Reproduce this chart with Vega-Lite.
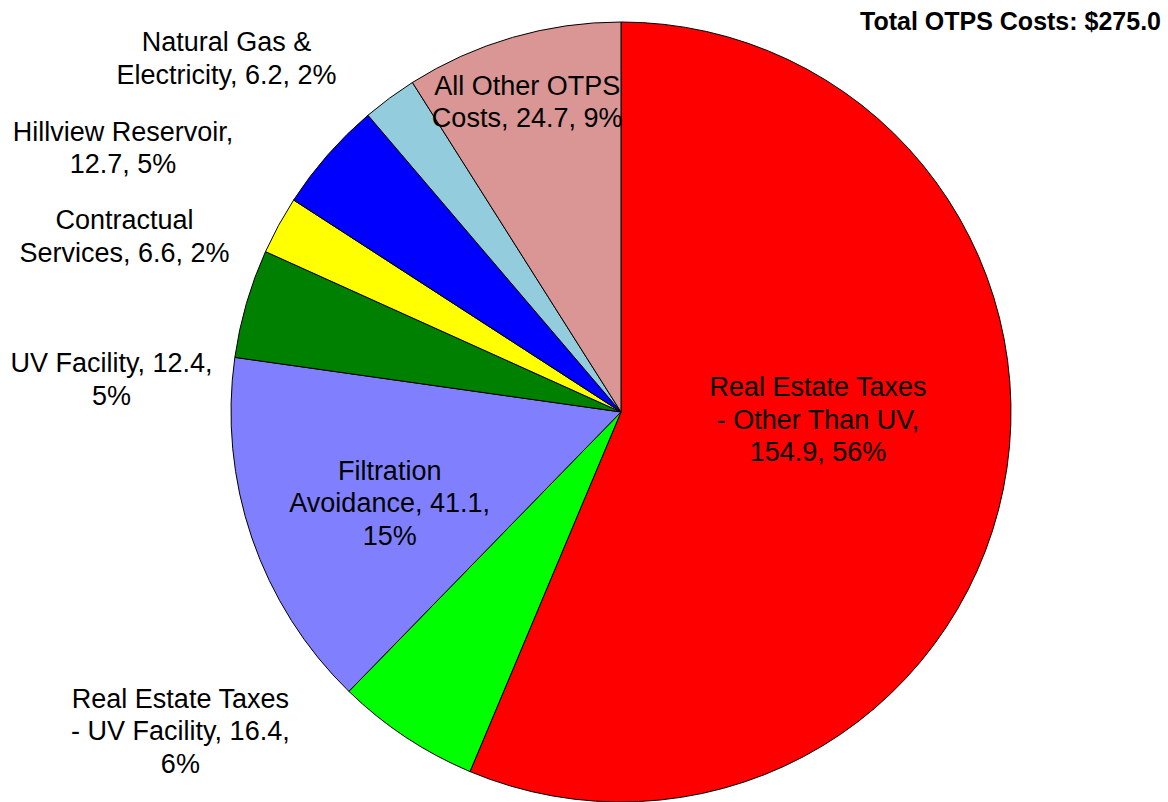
{
  "$schema": "https://vega.github.io/schema/vega-lite/v6.json",
  "width": 1094,
  "height": 780,
  "autosize": {"type": "none"},
  "padding": {"left": 74, "top": 22, "right": 0, "bottom": 0},
  "background": "white",
  "title": {"text": "Total OTPS Costs: $275.0", "anchor": "end", "frame": "group", "font": "Liberation Sans", "fontSize": 25, "fontWeight": "bold", "color": "black", "baseline": "alphabetic", "offset": -35, "dx": -7},
  "data": {"values": [
    {"order": 1, "category": "Real Estate Taxes - Other Than UV", "value": 154.9, "label": "Real Estate Taxes\n- Other Than UV,\n154.9, 56%"},
    {"order": 2, "category": "Real Estate Taxes - UV Facility", "value": 16.4, "label": "Real Estate Taxes\n- UV Facility, 16.4,\n6%"},
    {"order": 3, "category": "Filtration Avoidance", "value": 41.1, "label": "Filtration\nAvoidance, 41.1,\n15%"},
    {"order": 4, "category": "UV Facility", "value": 12.4, "label": "UV Facility, 12.4,\n5%"},
    {"order": 5, "category": "Contractual Services", "value": 6.6, "label": "Contractual\nServices, 6.6, 2%"},
    {"order": 6, "category": "Hillview Reservoir", "value": 12.7, "label": "Hillview Reservoir,\n12.7, 5%"},
    {"order": 7, "category": "Natural Gas & Electricity", "value": 6.2, "label": "Natural Gas &\nElectricity, 6.2, 2%"},
    {"order": 8, "category": "All Other OTPS Costs", "value": 24.7, "label": "All Other OTPS\nCosts, 24.7, 9%"}
  ]},
  "transform": [
    {"stack": "value", "groupby": [], "sort": [{"field": "order", "order": "ascending"}], "as": ["v0", "v1"]}
  ],
  "encoding": {
    "theta": {"field": "v0", "type": "quantitative", "scale": {"domain": [0, 275]}},
    "theta2": {"field": "v1"}
  },
  "layer": [
    {
      "mark": {"type": "arc", "stroke": "black", "strokeWidth": 1, "outerRadius": 390},
      "encoding": {
        "color": {"field": "category", "type": "nominal", "legend": null,
          "scale": {
            "domain": ["Real Estate Taxes - Other Than UV", "Real Estate Taxes - UV Facility", "Filtration Avoidance", "UV Facility", "Contractual Services", "Hillview Reservoir", "Natural Gas & Electricity", "All Other OTPS Costs"],
            "range": ["#FF0000", "#00FF00", "#8080FF", "#008000", "#FFFF00", "#0000FF", "#93CDDD", "#D99694"]
          }}
      }
    },
    {
      "transform": [{"filter": "datum.order === 1"}],
      "mark": {"type": "text", "radius": 24, "dx": 197, "dy": 0, "font": "Liberation Sans", "fontSize": 27, "lineHeight": 32.5, "lineBreak": "\n", "align": "center", "baseline": "middle", "color": "black"},
      "encoding": {"text": {"field": "label"}}
    },
    {
      "transform": [{"filter": "datum.order === 2"}],
      "mark": {"type": "text", "radius": 435.5, "dx": -272, "dy": -114, "font": "Liberation Sans", "fontSize": 27, "lineHeight": 32.5, "lineBreak": "\n", "align": "center", "baseline": "middle", "color": "black"},
      "encoding": {"text": {"field": "label"}}
    },
    {
      "transform": [{"filter": "datum.order === 3"}],
      "mark": {"type": "text", "radius": 204, "dx": -89, "dy": -86.5, "font": "Liberation Sans", "fontSize": 27, "lineHeight": 32.5, "lineBreak": "\n", "align": "center", "baseline": "middle", "color": "black"},
      "encoding": {"text": {"field": "label"}}
    },
    {
      "transform": [{"filter": "datum.order === 4"}],
      "mark": {"type": "text", "radius": 511, "dx": -3.5, "dy": 24, "font": "Liberation Sans", "fontSize": 27, "lineHeight": 32.5, "lineBreak": "\n", "align": "center", "baseline": "middle", "color": "black"},
      "encoding": {"text": {"field": "label"}}
    },
    {
      "transform": [{"filter": "datum.order === 5"}],
      "mark": {"type": "text", "radius": 531, "dx": -12.5, "dy": 27.5, "font": "Liberation Sans", "fontSize": 27, "lineHeight": 32.5, "lineBreak": "\n", "align": "center", "baseline": "middle", "color": "black"},
      "encoding": {"text": {"field": "label"}}
    },
    {
      "transform": [{"filter": "datum.order === 6"}],
      "mark": {"type": "text", "radius": 569.5, "dx": -20, "dy": 30.5, "font": "Liberation Sans", "fontSize": 27, "lineHeight": 32.5, "lineBreak": "\n", "align": "center", "baseline": "middle", "color": "black"},
      "encoding": {"text": {"field": "label"}}
    },
    {
      "transform": [{"filter": "datum.order === 7"}],
      "mark": {"type": "text", "radius": 536.5, "dx": -46.5, "dy": 39.5, "font": "Liberation Sans", "fontSize": 27, "lineHeight": 32.5, "lineBreak": "\n", "align": "center", "baseline": "middle", "color": "black"},
      "encoding": {"text": {"field": "label"}}
    },
    {
      "transform": [{"filter": "datum.order === 8"}],
      "mark": {"type": "text", "radius": 325, "dx": 80, "dy": -50.5, "font": "Liberation Sans", "fontSize": 27, "lineHeight": 32.5, "lineBreak": "\n", "align": "center", "baseline": "middle", "color": "black"},
      "encoding": {"text": {"field": "label"}}
    }
  ],
  "config": {"view": {"stroke": null}}
}
